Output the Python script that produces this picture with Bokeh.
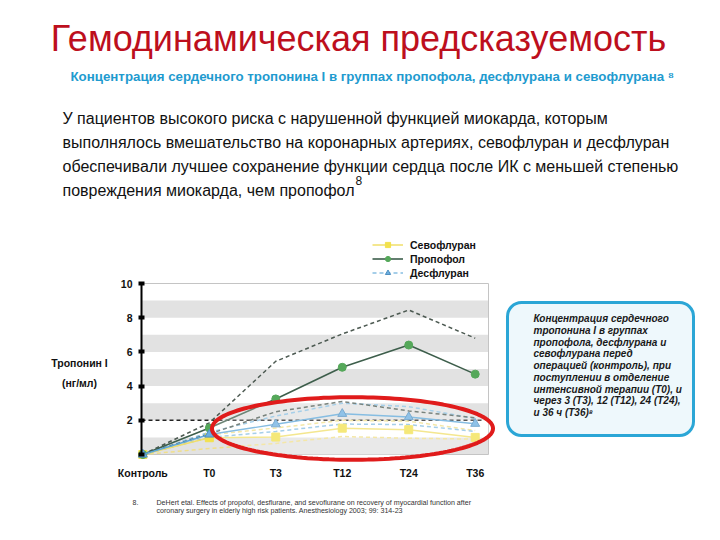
import numpy as np
from bokeh.plotting import figure
from bokeh.models import (Range1d, FixedTicker, Label, Legend, LegendItem,
                          BoxAnnotation, PolyAnnotation, LinearAxis)
from bokeh.embed import file_html
from bokeh.resources import INLINE

# ---------------- data ----------------
categories = ["Контроль", "T0", "T3", "T12", "T24", "T36"]
propofol = [0, 1.55, 3.25, 5.1, 6.4, 4.7]
propofol_upper = [0, 1.85, 5.45, 7.05, 8.45, 6.8]
propofol_lower = [0, 1.2, 2.5, 3.1, 2.55, 2.15]
desflurane = [0, 1.17, 1.77, 2.38, 2.19, 1.8]
desflurane_upper = [0, 1.3, 2.25, 3.0, 2.8, 2.1]
desflurane_lower = [0, 1.0, 1.35, 1.78, 1.75, 1.35]
sevoflurane = [0, 0.98, 1.02, 1.54, 1.45, 1.0]
sevoflurane_upper = [0, 1.15, 1.55, 2.0, 1.95, 1.4]
sevoflurane_lower = [0, 0.35, 0.65, 1.05, 0.95, 0.9]
threshold = 2.0
y_ticks = [0, 2, 4, 6, 8, 10]

# ---------------- layout ----------------
W, H = 704, 524
CL, CR, CT, CB = 141, 488, 283, 454      # chart area in canvas pixels
cx_lo, cx_hi = -0.02, 5.2                # chart x extent (category index)
cy_lo, cy_hi = 0.0, 10.0                 # chart y extent
sx = (cx_hi - cx_lo) / (CR - CL)
sy = (cy_hi - cy_lo) / (CB - CT)


def X(px):
    return cx_lo + (np.asarray(px, dtype=float) - CL) * sx


def Y(py):
    return cy_lo + (CB - np.asarray(py, dtype=float)) * sy


p = figure(width=W, height=H, output_backend="svg", toolbar_location=None,
           x_range=Range1d(float(X(0)), float(X(W))),
           y_range=Range1d(float(Y(H)), float(Y(0))),
           x_axis_location=None, y_axis_location=None,
           min_border=0, min_border_left=0, min_border_right=0,
           min_border_top=0, min_border_bottom=0)
p.background_fill_color = "white"
p.border_fill_color = "white"
p.outline_line_color = None
p.grid.visible = False

FONT = "Liberation Sans"

# background bands of the chart
for b in range(0, 10, 2):
    p.add_layout(BoxAnnotation(left=cx_lo, right=cx_hi, bottom=b, top=b + 1,
                               fill_color="#e2e2e2", fill_alpha=1,
                               line_color=None, level="underlay"))
# chart outline
p.add_layout(BoxAnnotation(left=cx_lo, right=cx_hi, bottom=cy_lo, top=cy_hi,
                           fill_alpha=0, line_color="#c4c4c4", line_alpha=1,
                           line_width=1, level="underlay"))

# axes
ya = LinearAxis(fixed_location=cx_lo, bounds=(cy_lo, cy_hi))
ya.ticker = FixedTicker(ticks=y_ticks)
ya.major_label_overrides = {0: ""}
ya.axis_line_color = "black"
ya.axis_line_width = 2
ya.major_tick_in = 3
ya.major_tick_out = 3
ya.major_tick_line_width = 4
ya.major_tick_line_color = "black"
ya.minor_tick_line_color = None
ya.major_label_text_font = FONT
ya.major_label_text_font_style = "bold"
ya.major_label_text_font_size = "10.5px"
ya.major_label_text_color = "#111111"
ya.major_label_standoff = 6
p.add_layout(ya, "left")

xa = LinearAxis(fixed_location=cy_lo)
xa.ticker = FixedTicker(ticks=list(range(len(categories))))
xa.major_label_overrides = {i: c for i, c in enumerate(categories)}
xa.axis_line_color = None
xa.major_tick_line_color = None
xa.minor_tick_line_color = None
xa.major_label_text_font = FONT
xa.major_label_text_font_style = "bold"
xa.major_label_text_font_size = "10.5px"
xa.major_label_text_color = "#111111"
xa.major_label_standoff = 6
p.add_layout(xa, "below")

xs = list(range(len(categories)))

# threshold reference line (limited to the chart width)
p.line([cx_lo, 5.12], [threshold, threshold], line_color="#222222",
       line_dash="4 3", line_width=1.5)

# dashed bounds
for arr in (sevoflurane_upper, sevoflurane_lower):
    p.line(xs, arr, line_color="#f0df8a", line_dash="4 3", line_width=1.5)
for arr in (desflurane_upper, desflurane_lower):
    p.line(xs, arr, line_color="#88bfe2", line_dash="4 3", line_width=1.5)
for arr in (propofol_upper, propofol_lower):
    p.line(xs, arr, line_color="#4d5a52", line_dash="4 3", line_width=1.5)

# main series
sev_l = p.line(xs, sevoflurane, line_color="#f1df6a", line_width=1.5)
sev_m = p.scatter(xs, sevoflurane, marker="square", size=8, fill_color="#f2e14d",
                  line_color="#f2e14d")
pro_l = p.line(xs, propofol, line_color="#3d5e4b", line_width=1.6)
pro_m = p.scatter(xs, propofol, marker="circle", size=8, fill_color="#55a85a",
                  line_color="#55a85a")
des_l = p.line(xs, desflurane, line_color="#5ea7d8", line_width=1.4)
des_m = p.scatter(xs, desflurane, marker="triangle", size=9, fill_color="#6aaee0",
                  line_color="#4f8fc0")
des_leg = p.line(xs, desflurane_upper, line_color="#88bfe2", line_dash="4 3",
                 line_width=1.5, visible=False)

legend = Legend(items=[
    LegendItem(label="Севофлуран", renderers=[sev_l, sev_m]),
    LegendItem(label="Пропофол", renderers=[pro_l, pro_m]),
    LegendItem(label="Десфлуран", renderers=[des_leg, des_m]),
], location=(372, H - 279), orientation="vertical")
legend.background_fill_alpha = 0
legend.border_line_color = None
legend.padding = 0
legend.margin = 0
legend.spacing = 1
legend.glyph_width = 31
legend.glyph_height = 13
legend.label_height = 13
legend.label_standoff = 7
legend.label_text_font = FONT
legend.label_text_font_style = "bold"
legend.label_text_font_size = "10.5px"
legend.label_text_color = "#111111"
p.add_layout(legend)

# red highlight ellipse
t = np.linspace(0, 2 * np.pi, 160)
ex = X(352 + 140.5 * np.cos(t))
ey = Y(428 + 31.3 * np.sin(t))
p.add_layout(PolyAnnotation(xs=list(ex), ys=list(ey), fill_color="white",
                            fill_alpha=0.25, line_color="#e01b1b", line_alpha=1,
                            line_width=4))


def lab(px, py, text, size, color="#111111", style="normal", align="left"):
    p.add_layout(Label(x=float(X(px)), y=float(Y(py)), text=text, text_font=FONT,
                       text_font_size=size, text_color=color, text_font_style=style,
                       text_align=align, text_baseline="middle"))


# title & subtitle
lab(358, 38, "Гемодинамическая предсказуемость", "36px", color="#bd0f1d", align="center")
lab(70, 76, "Концентрация сердечного тропонина I в группах пропофола, десфлурана и севофлурана ⁸",
    "13.3px", color="#1f9bcf", style="bold")

# paragraph
para = ["У пациентов высокого риска с нарушенной функцией миокарда, которым",
        "выполнялось вмешательство на коронарных артериях, севофлуран и десфлуран",
        "обеспечивали лучшее сохранение функции сердца после ИК с меньшей степенью",
        "повреждения миокарда, чем пропофол"]
for i, line in enumerate(para):
    lab(62, 118 + 24 * i, line, "16px")
lab(355, 180, "8", "12px")

# y axis title
lab(79, 362, "Тропонин I", "10.5px", style="bold", align="center")
lab(79, 382, "(нг/мл)", "10.5px", style="bold", align="center")

# side note box
p.add_layout(BoxAnnotation(left=float(X(507)), right=float(X(693)),
                           top=float(Y(302)), bottom=float(Y(435)),
                           fill_color="#eef8fc", fill_alpha=1,
                           line_color="#2ba6d6", line_alpha=1, line_width=3,
                           border_radius=14))
note = [" Концентрация сердечного",
        "тропонина I в группах",
        "пропофола, десфлурана и",
        "севофлурана перед",
        "операцией (контроль), при",
        "поступлении в отделение",
        "интенсивной терапии (T0), и",
        "через 3 (T3), 12 (T12), 24 (T24),",
        "и 36 ч (T36)⁸"]
for i, line in enumerate(note):
    lab(533, 318 + 11.75 * i, line, "10px", color="#1a1a1a", style="bold italic")

# footnote
lab(132, 502, "8.", "7px", color="#333333")
lab(156, 502, "DeHert etal. Effects of propofol, desflurane, and sevoflurane on recovery of myocardial function after",
    "7.1px", color="#333333")
lab(156, 510, "coronary surgery in elderly high risk patients. Anesthesiology 2003; 99: 314-23",
    "7.1px", color="#333333")

open("out.html", "w").write(file_html(p, INLINE))
